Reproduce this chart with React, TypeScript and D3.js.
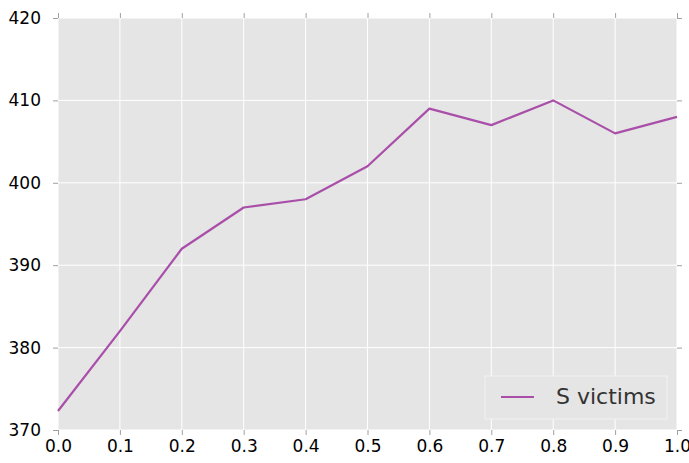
import { useEffect, useRef } from 'react';
import * as d3 from 'd3';

// data
const xValues = [0.0, 0.1, 0.2, 0.3, 0.4, 0.5, 0.6, 0.7, 0.8, 0.9, 1.0];
const victims = [372.3, 382, 392, 397, 398, 402, 409, 407, 410, 406, 408];
const xTicks = [0, 0.1, 0.2, 0.3, 0.4, 0.5, 0.6, 0.7, 0.8, 0.9, 1.0];
const yTicks = [370, 380, 390, 400, 410, 420];
const seriesName = 'S victims';

const width = 689;
const height = 463;

export default function App() {
  const svgRef = useRef<SVGSVGElement>(null);

  useEffect(() => {
    if (!svgRef.current) return;
    const svg = d3.select(svgRef.current);
    svg.selectAll('*').remove();

    const margin = { top: 18, right: 12, bottom: 33, left: 58 };
    const innerWidth = width - margin.left - margin.right;
    const innerHeight = height - margin.top - margin.bottom;

    const xScale = d3.scaleLinear().domain([0, 1]).range([0, innerWidth]);
    const yScale = d3.scaleLinear().domain([370, 420]).range([innerHeight, 0]);

    const g = svg.append('g').attr('transform', `translate(${margin.left},${margin.top})`);

    // background
    g.append('rect')
      .attr('width', innerWidth)
      .attr('height', innerHeight)
      .attr('fill', '#e5e5e5');

    // grid lines
    g.append('g')
      .selectAll('line')
      .data(xTicks)
      .enter().append('line')
      .attr('x1', d => xScale(d)).attr('x2', d => xScale(d))
      .attr('y1', 0).attr('y2', innerHeight)
      .attr('stroke', '#ffffff').attr('stroke-width', 1);

    g.append('g')
      .selectAll('line')
      .data(yTicks)
      .enter().append('line')
      .attr('x1', 0).attr('x2', innerWidth)
      .attr('y1', d => yScale(d)).attr('y2', d => yScale(d))
      .attr('stroke', '#ffffff').attr('stroke-width', 1);

    // outward ticks on all four sides
    const styleAxis = (sel: d3.Selection<SVGGElement, unknown, null, undefined>) => {
      sel.select('.domain').remove();
      sel.selectAll('line').attr('stroke', '#a0a0a0');
      sel.selectAll('text')
        .style('font-family', '"DejaVu Sans", sans-serif')
        .style('font-size', '17px')
        .style('fill', '#000');
    };

    g.append('g')
      .attr('transform', `translate(0,${innerHeight})`)
      .call(d3.axisBottom(xScale).tickValues(xTicks).tickFormat(d3.format('.1f')).tickSize(5).tickPadding(5))
      .call(styleAxis);

    g.append('g')
      .call(d3.axisTop(xScale).tickValues(xTicks).tickFormat(() => '').tickSize(5))
      .call(styleAxis);

    g.append('g')
      .call(d3.axisLeft(yScale).tickValues(yTicks).tickFormat(d3.format('d')).tickSize(5).tickPadding(12))
      .call(styleAxis);

    g.append('g')
      .attr('transform', `translate(${innerWidth},0)`)
      .call(d3.axisRight(yScale).tickValues(yTicks).tickFormat(() => '').tickSize(5))
      .call(styleAxis);

    // line
    const line = d3.line<number>()
      .x((_, i) => xScale(xValues[i]))
      .y(d => yScale(d));

    g.append('path')
      .datum(victims)
      .attr('d', line)
      .attr('fill', 'none')
      .attr('stroke', '#a94fa9')
      .attr('stroke-width', 2.2)
      .attr('stroke-linejoin', 'round');

    // legend
    const legend = g.append('g')
      .attr('transform', `translate(${innerWidth - 192},${innerHeight - 54})`);

    legend.append('rect')
      .attr('width', 182)
      .attr('height', 43)
      .attr('fill', '#e5e5e5')
      .attr('stroke', '#f2f2f2')
      .attr('stroke-width', 1);

    legend.append('line')
      .attr('x1', 16).attr('x2', 49)
      .attr('y1', 21).attr('y2', 21)
      .attr('stroke', '#a94fa9')
      .attr('stroke-width', 2.2);

    legend.append('text')
      .attr('x', 71)
      .attr('y', 28)
      .style('font-family', '"DejaVu Sans", sans-serif')
      .style('font-size', '22px')
      .style('fill', '#333')
      .text(seriesName);
  }, []);

  return (
    <svg
      ref={svgRef}
      width={width}
      height={height}
      style={{ position: 'absolute', left: 0, top: 0, background: '#fff' }}
    ></svg>
  );
}
